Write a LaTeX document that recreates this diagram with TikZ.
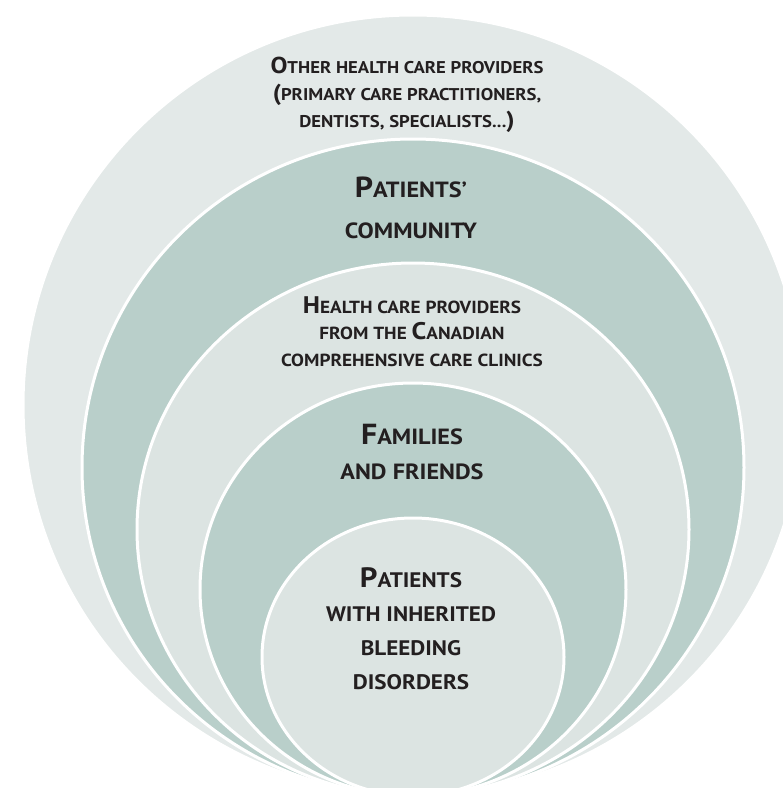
\documentclass[tikz,border=0pt]{standalone}
\usepackage{fontspec}
\setmainfont{PT Sans}[FakeStretch=1.1]
\definecolor{liteA}{HTML}{E3E9E8}
\definecolor{liteB}{HTML}{DCE4E2}
\definecolor{tealC}{HTML}{B9CFCA}
\definecolor{ink}{HTML}{231F20}
\newcommand\Bg[2]{{\fontsize{#1}{#1}\selectfont #2}}
\begin{document}
\begin{tikzpicture}[x=1pt,y=-1pt,
  layer/.style={draw=white,line width=3pt},
  lbl/.style={align=center,text=ink,inner sep=0pt}]
\useasboundingbox (0,0) rectangle (783,788);
\begin{scope}
\clip (0,0) rectangle (783,788);
\filldraw[layer,fill=liteA] (413,405) ellipse [x radius=390,y radius=390];
\filldraw[layer,fill=tealC] (413,467.5) ellipse [x radius=331,y radius=328.5];
\filldraw[layer,fill=liteB] (413,529.5) ellipse [x radius=276,y radius=266.5];
\filldraw[layer,fill=tealC] (413,589.5) ellipse [x radius=213,y radius=206.5];
\filldraw[layer,fill=liteB] (413,657) ellipse [x radius=151,y radius=139];
\end{scope}
\node[lbl,font=\bfseries\fontsize{17}{27}\selectfont] (t1) at (407,95)
  {\Bg{23}{O}THER HEALTH CARE PROVIDERS\\\Bg{23}{(}PRIMARY CARE PRACTITIONERS,\\DENTISTS, SPECIALISTS...\Bg{23}{)}};
\node[lbl,font=\bfseries\fontsize{22}{41}\selectfont] (t2) at (411,208)
  {\Bg{29}{P}ATIENTS'\\COMMUNITY};
\node[lbl,font=\bfseries\fontsize{17.5}{26.5}\selectfont] (t3) at (412,331.5)
  {\Bg{24}{H}EALTH CARE PROVIDERS\\FROM THE \Bg{24}{C}ANADIAN\\COMPREHENSIVE CARE CLINICS};
\node[lbl,font=\bfseries\fontsize{22}{35}\selectfont] (t4) at (412,451.5)
  {\Bg{29}{F}AMILIES\\AND FRIENDS};
\node[lbl,font=\bfseries\fontsize{21}{34}\selectfont] (t5) at (411,628.5)
  {\Bg{28}{P}ATIENTS\\WITH INHERITED\\BLEEDING\\DISORDERS};
\end{tikzpicture}
\end{document}
